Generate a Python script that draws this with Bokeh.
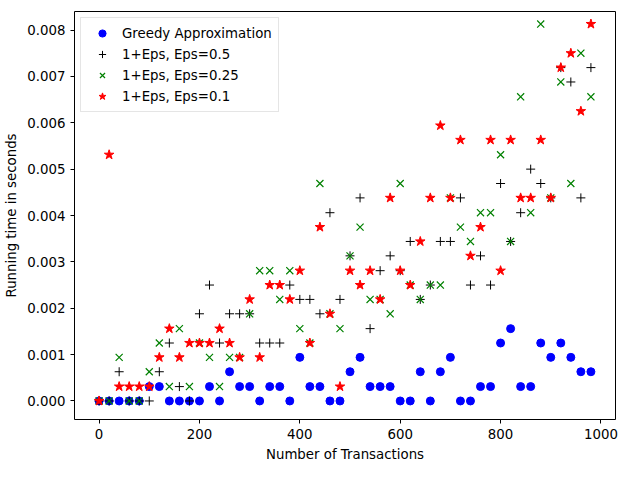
from bokeh.plotting import figure
from bokeh.models import Range1d, FixedTicker, NumeralTickFormatter, Legend, LegendItem
from bokeh.embed import file_html
from bokeh.resources import INLINE

n_tx = list(range(0, 1000, 20))

greedy = [0, 0, 0, 0, 0, 0.00031, 0.00031, 0, 0, 0,
          0, 0.00031, 0, 0.00063, 0.00031, 0.00031, 0, 0.00031, 0.00031, 0,
          0.00094, 0.00031, 0.00031, 0, 0, 0.00063, 0.00094, 0.00031, 0.00031, 0.00031,
          0, 0, 0.00063, 0, 0.00063, 0.00094, 0, 0, 0.00031, 0.00031,
          0.00125, 0.00156, 0.00031, 0.00031, 0.00125, 0.00094, 0.00125, 0.00094, 0.00063, 0.00063]

eps05 = [0, 0, 0.00063, 0, 0, 0, 0.00063, 0.00125, 0.00031, 0,
         0.00188, 0.0025, 0.00125, 0.00188, 0.00188, 0.00188, 0.00125, 0.00125, 0.00125, 0.0025,
         0.00219, 0.00219, 0.00188, 0.00406, 0.00219, 0.00313, 0.00438, 0.00156, 0.00281, 0.00313,
         0.00281, 0.00344, 0.00219, 0.0025, 0.00344, 0.00344, 0.00438, 0.0025, 0.00313, 0.0025,
         0.00469, 0.00344, 0.00406, 0.005, 0.00469, 0.00438, 0.00719, 0.00688, 0.00438, 0.00719]

eps025 = [0, 0, 0.00094, 0, 0, 0.00063, 0.00125, 0.00031, 0.00156, 0.00031,
          0.00125, 0.00094, 0.00031, 0.00094, 0.00094, 0.00188, 0.00281, 0.00281, 0.00219, 0.00281,
          0.00156, 0.00125, 0.00469, 0.00188, 0.00156, 0.00313, 0.00375, 0.00219, 0.00219, 0.00188,
          0.00469, 0.0025, 0.00219, 0.0025, 0.0025, 0.00438, 0.00375, 0.00344, 0.00406, 0.00406,
          0.00531, 0.00344, 0.00656, 0.00406, 0.00813, 0.00438, 0.00688, 0.00469, 0.0075, 0.00656]

eps01 = [0, 0.00531, 0.00031, 0.00031, 0.00031, 0.00031, 0.00094, 0.00156, 0.00094, 0.00125,
         0.00125, 0.00125, 0.00156, 0.00125, 0.00094, 0.00219, 0.00094, 0.0025, 0.0025, 0.00219,
         0.00281, 0.00125, 0.00375, 0.00188, 0.00031, 0.00281, 0.0025, 0.00281, 0.00219, 0.00438,
         0.00281, 0.0025, 0.00344, 0.00438, 0.00594, 0.00438, 0.00563, 0.00313, 0.00375, 0.00563,
         0.00281, 0.00563, 0.00438, 0.00438, 0.00563, 0.00438, 0.00719, 0.0075, 0.00625, 0.00813]

p = figure(width=624, height=464, output_backend="svg", toolbar_location=None,
           x_range=Range1d(-49, 1029), y_range=Range1d(-0.0004, 0.0084),
           x_axis_label="Number of Transactions", y_axis_label="Running time in seconds")
p.min_border_left = 74
p.min_border_right = 9
p.min_border_top = 11
p.min_border_bottom = 44
p.xgrid.visible = False
p.ygrid.visible = False
p.outline_line_color = "black"
p.outline_line_width = 1

for ax in (p.xaxis, p.yaxis):
    ax.axis_line_color = None
    ax.major_tick_out = 4
    ax.major_tick_in = 0
    ax.major_tick_line_color = "black"
    ax.minor_tick_line_color = None
    ax.major_label_text_font = "DejaVu Sans"
    ax.major_label_text_font_size = "10pt"
    ax.major_label_text_color = "black"
    ax.axis_label_text_font = "DejaVu Sans"
    ax.axis_label_text_font_size = "10pt"
    ax.axis_label_text_font_style = "normal"
    ax.axis_label_text_color = "black"
p.xaxis.ticker = FixedTicker(ticks=[0, 200, 400, 600, 800, 1000])
p.yaxis.ticker = FixedTicker(ticks=[0.001 * i for i in range(9)])
p.yaxis.formatter = NumeralTickFormatter(format="0.000")

r1 = p.scatter(n_tx, greedy, marker="circle", size=8, color="blue")
r2 = p.scatter(n_tx, eps05, marker="cross", size=9, line_color="black", line_width=1)
r3 = p.scatter(n_tx, eps025, marker="x", size=10, line_color="green", line_width=1.2)
r4 = p.scatter(n_tx, eps01, marker="star", size=10, color="red")

legend = Legend(items=[
    LegendItem(label="Greedy Approximation", renderers=[r1]),
    LegendItem(label="1+Eps, Eps=0.5", renderers=[r2]),
    LegendItem(label="1+Eps, Eps=0.25", renderers=[r3]),
    LegendItem(label="1+Eps, Eps=0.1", renderers=[r4]),
], location="top_left")
legend.label_text_font = "DejaVu Sans"
legend.label_text_font_size = "10pt"
legend.label_text_color = "black"
legend.border_line_color = "#cccccc"
legend.border_line_width = 1
legend.glyph_height = 18
legend.glyph_width = 30
legend.label_height = 18
legend.spacing = 3
legend.padding = 6
legend.margin = 6
p.add_layout(legend)

open("out.html", "w").write(file_html(p, INLINE))
